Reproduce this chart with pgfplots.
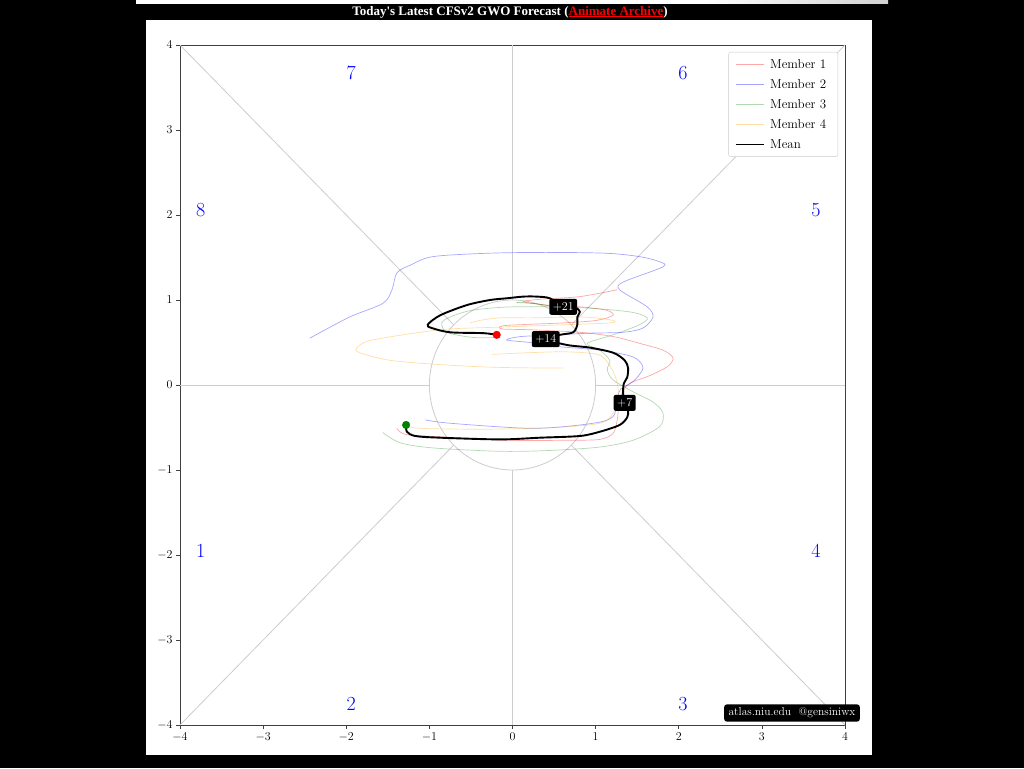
\documentclass[border=0pt]{standalone}
\usepackage{fontspec}
\usepackage{pgfplots}
\pgfplotsset{compat=1.18}
\newfontfamily\timesf{Liberation Serif}
\definecolor{refgray}{RGB}{205,205,205}
\definecolor{mgreen}{RGB}{0,128,0}
\definecolor{morange}{RGB}{255,165,0}
\begin{document}
\begin{tikzpicture}[x=1pt,y=1pt]
\useasboundingbox (0,0) rectangle (1024,768);
\fill[black] (0,0) rectangle (1024,768);
\shade[left color=white, right color=gray!35] (700,764) rectangle (888,768);
\fill[white] (136,764) rectangle (700,768);
\fill[white] (146,13) rectangle (872,748);
\node[text=white, font=\timesf\bfseries\fontsize{13}{15}\selectfont, inner sep=0pt] at (510,756) {Today's Latest CFSv2 GWO Forecast (\textcolor{red}{\underline{Animate Archive}})};
\begin{axis}[
  at={(180pt,43pt)}, anchor=south west,
  width=665pt, height=680pt, scale only axis,
  xmin=-4, xmax=4, ymin=-4, ymax=4,
  xtick={-4,-3,...,4}, ytick={-4,-3,...,4},
  tick align=outside, tick pos=left,
  major tick length=4pt,
  axis line style={black!75, line width=0.6pt},
  every tick/.style={black!75, line width=0.6pt},
  ticklabel style={font=\fontsize{12}{14}\selectfont},
  legend style={at={(1,1)}, anchor=north east, xshift=-7pt, yshift=-7pt,
    draw=black!20, rounded corners=2pt, fill=white,
    font=\fontsize{13}{15}\selectfont, row sep=5.5pt, inner xsep=6pt, inner ysep=5pt,
    nodes={inner xsep=5.5pt},
    cells={anchor=west}},
  legend image code/.code={\draw[#1] (0pt,0pt) -- (28pt,0pt);},
]
% reference lines
\addplot[refgray, line width=0.8pt, forget plot] coordinates {(-4,-4) (-0.7071,-0.7071)};
\addplot[refgray, line width=0.8pt, forget plot] coordinates {(4,4) (0.7071,0.7071)};
\addplot[refgray, line width=0.8pt, forget plot] coordinates {(-4,4) (-0.7071,0.7071)};
\addplot[refgray, line width=0.8pt, forget plot] coordinates {(4,-4) (0.7071,-0.7071)};
\addplot[refgray, line width=0.8pt, forget plot] coordinates {(-4,0) (-1,0)};
\addplot[refgray, line width=0.8pt, forget plot] coordinates {(1,0) (4,0)};
\addplot[refgray, line width=0.8pt, forget plot] coordinates {(0,1) (0,4)};
\addplot[refgray, line width=0.8pt, forget plot] coordinates {(0,-1) (0,-4)};
\draw[refgray, line width=0.8pt] (axis cs:0,0) ellipse [x radius=1, y radius=1];
% members
\addplot[red, draw opacity=0.35, line width=0.7pt, smooth, tension=0.5] coordinates {
(-1.39,-0.51) (-1.29,-0.58) (-0.87,-0.61) (-0.07,-0.65) (0.69,-0.65) (1.05,-0.64) (1.21,-0.57) (1.26,-0.41) (1.28,-0.24) (1.32,-0.09) (1.41,0.02) (1.65,0.11) (1.87,0.22) (1.93,0.32) (1.81,0.41) (1.53,0.49) (1.21,0.57) (0.81,0.62) (0.21,0.65) (-0.13,0.66) (-0.08,0.70) (0.6,0.73) (1.01,0.76) (1.21,0.82) (1.13,0.88) (0.81,0.92) (0.42,0.94) (0.13,0.98) (0.35,1.01) (0.81,1.04) (1.26,1.12)};
\addlegendentry{Member 1}
\addplot[blue, draw opacity=0.35, line width=0.7pt, smooth, tension=0.5] coordinates {
(-1.05,-0.41) (-0.75,-0.45) (0.25,-0.51) (0.97,-0.45) (1.21,-0.37) (1.26,-0.16) (1.3,-0.05) (1.45,0.04) (1.57,0.2) (1.45,0.33) (1.05,0.41) (0.57,0.45) (0.21,0.50) (-0.07,0.53) (0.1,0.57) (0.54,0.59) (0.93,0.61) (1.33,0.62) (1.57,0.67) (1.69,0.80) (1.62,0.92) (1.29,1.12) (1.33,1.21) (1.81,1.39) (1.77,1.45) (1.53,1.51) (1.13,1.55) (0.4,1.56) (-0.3,1.55) (-0.96,1.51) (-1.23,1.41) (-1.39,1.32) (-1.45,1.12) (-1.56,0.96) (-1.96,0.8) (-2.44,0.55)};
\addlegendentry{Member 2}
\addplot[mgreen, draw opacity=0.3, line width=0.7pt, smooth, tension=0.5] coordinates {
(-1.56,-0.56) (-1.35,-0.68) (-0.96,-0.74) (-0.15,-0.78) (0.45,-0.77) (1.05,-0.73) (1.45,-0.65) (1.77,-0.49) (1.81,-0.33) (1.69,-0.20) (1.45,-0.08) (1.21,0.06) (1.14,0.18) (1.17,0.29) (1.05,0.41) (0.90,0.49) (1.21,0.59) (1.53,0.71) (1.62,0.79) (1.41,0.86) (0.81,0.91) (0.01,0.92) (-0.48,0.88) (-0.75,0.80) (-0.85,0.73) (-0.79,0.62) (-0.48,0.56) (-0.15,0.56)};
\addlegendentry{Member 3}
\addplot[morange, draw opacity=0.35, line width=0.7pt, smooth, tension=0.5] coordinates {
(-1.35,-0.47) (-1.1,-0.51) (-0.3,-0.52) (0.5,-0.50) (1.05,-0.45) (1.21,-0.33) (1.27,-0.12) (1.26,0.02) (1.2,0.18) (1.05,0.35) (0.66,0.39) (0.2,0.38) (-0.25,0.36)};
\addlegendentry{Member 4}
\addplot[morange, draw opacity=0.35, line width=0.7pt, smooth, tension=0.5, forget plot] coordinates {
(0.61,0.20) (0.33,0.20) (-0.27,0.21) (-0.87,0.24) (-1.47,0.29) (-1.84,0.38) (-1.87,0.44) (-1.68,0.53) (-0.87,0.65) (-0.19,0.68) (0.66,0.71) (1.17,0.73) (1.21,0.76) (0.85,0.80) (0.25,0.79) (-0.15,0.79) (-0.39,0.76) (-0.51,0.73)};
\addplot[mgreen, draw opacity=0.45, line width=0.7pt, smooth, forget plot] coordinates {(0.05,0.97) (0.25,0.96) (0.45,0.93) (0.65,0.90)};
% mean
\addplot[black, line width=1.9pt, smooth, tension=0.5] coordinates {
(-1.28,-0.47) (-1.27,-0.55) (-1.17,-0.60) (-0.87,-0.62) (-0.15,-0.64) (0.33,-0.62) (0.81,-0.60) (1.05,-0.55) (1.29,-0.47) (1.38,-0.38) (1.39,-0.30) (1.35,-0.21) (1.33,-0.09) (1.34,0.02) (1.38,0.09) (1.39,0.20) (1.35,0.29) (1.21,0.38) (0.93,0.44) (0.66,0.47) (0.40,0.54) (0.57,0.59) (0.73,0.62) (0.78,0.71) (0.78,0.80) (0.81,0.86) (0.76,0.91) (0.61,0.92) (0.45,1.02) (0.29,1.04) (0.13,1.04) (-0.07,1.02) (-0.27,1.00) (-0.55,0.94) (-0.87,0.82) (-1.02,0.71) (-0.97,0.67) (-0.75,0.62) (-0.35,0.61) (-0.19,0.59)};
\addlegendentry{Mean}
\addplot[only marks, mark=*, mark size=3.8pt, mgreen, forget plot] coordinates {(-1.28,-0.47)};
\addplot[only marks, mark=*, mark size=3.8pt, red, forget plot] coordinates {(-0.19,0.59)};
% day labels
\tikzset{daylab/.style={fill=black, text=white, rounded corners=2pt, inner xsep=3.5pt, inner ysep=3.5pt, font=\fontsize{12}{14}\selectfont}}
\node[daylab] at (axis cs:1.35,-0.21) {+7};
\node[daylab] at (axis cs:0.40,0.54) {+14};
\node[daylab] at (axis cs:0.61,0.92) {+21};
% phase numbers
\tikzset{phase/.style={text=blue, font=\fontsize{20}{22}\selectfont}}
\node[phase] at (axis cs:-3.75,-1.95) {1};
\node[phase] at (axis cs:-1.94,-3.75) {2};
\node[phase] at (axis cs:2.05,-3.75) {3};
\node[phase] at (axis cs:3.65,-1.95) {4};
\node[phase] at (axis cs:3.65,2.06) {5};
\node[phase] at (axis cs:2.05,3.67) {6};
\node[phase] at (axis cs:-1.94,3.67) {7};
\node[phase] at (axis cs:-3.75,2.06) {8};
\node[anchor=south, font=\fontsize{14}{16}\selectfont, yshift=3pt] at (axis description cs:0.5,1) {CFSv2 GWO Forecast \ \ $|$ \ \ 07 \ January \ 2020 0000 UTC};
\end{axis}
\node[fill=black, text=white, rounded corners=3pt, inner xsep=4.5pt, inner ysep=3.5pt, font=\fontsize{11.5}{13}\selectfont] at (792,55) {atlas.niu.edu \ @gensiniwx};
\end{tikzpicture}
\end{document}
